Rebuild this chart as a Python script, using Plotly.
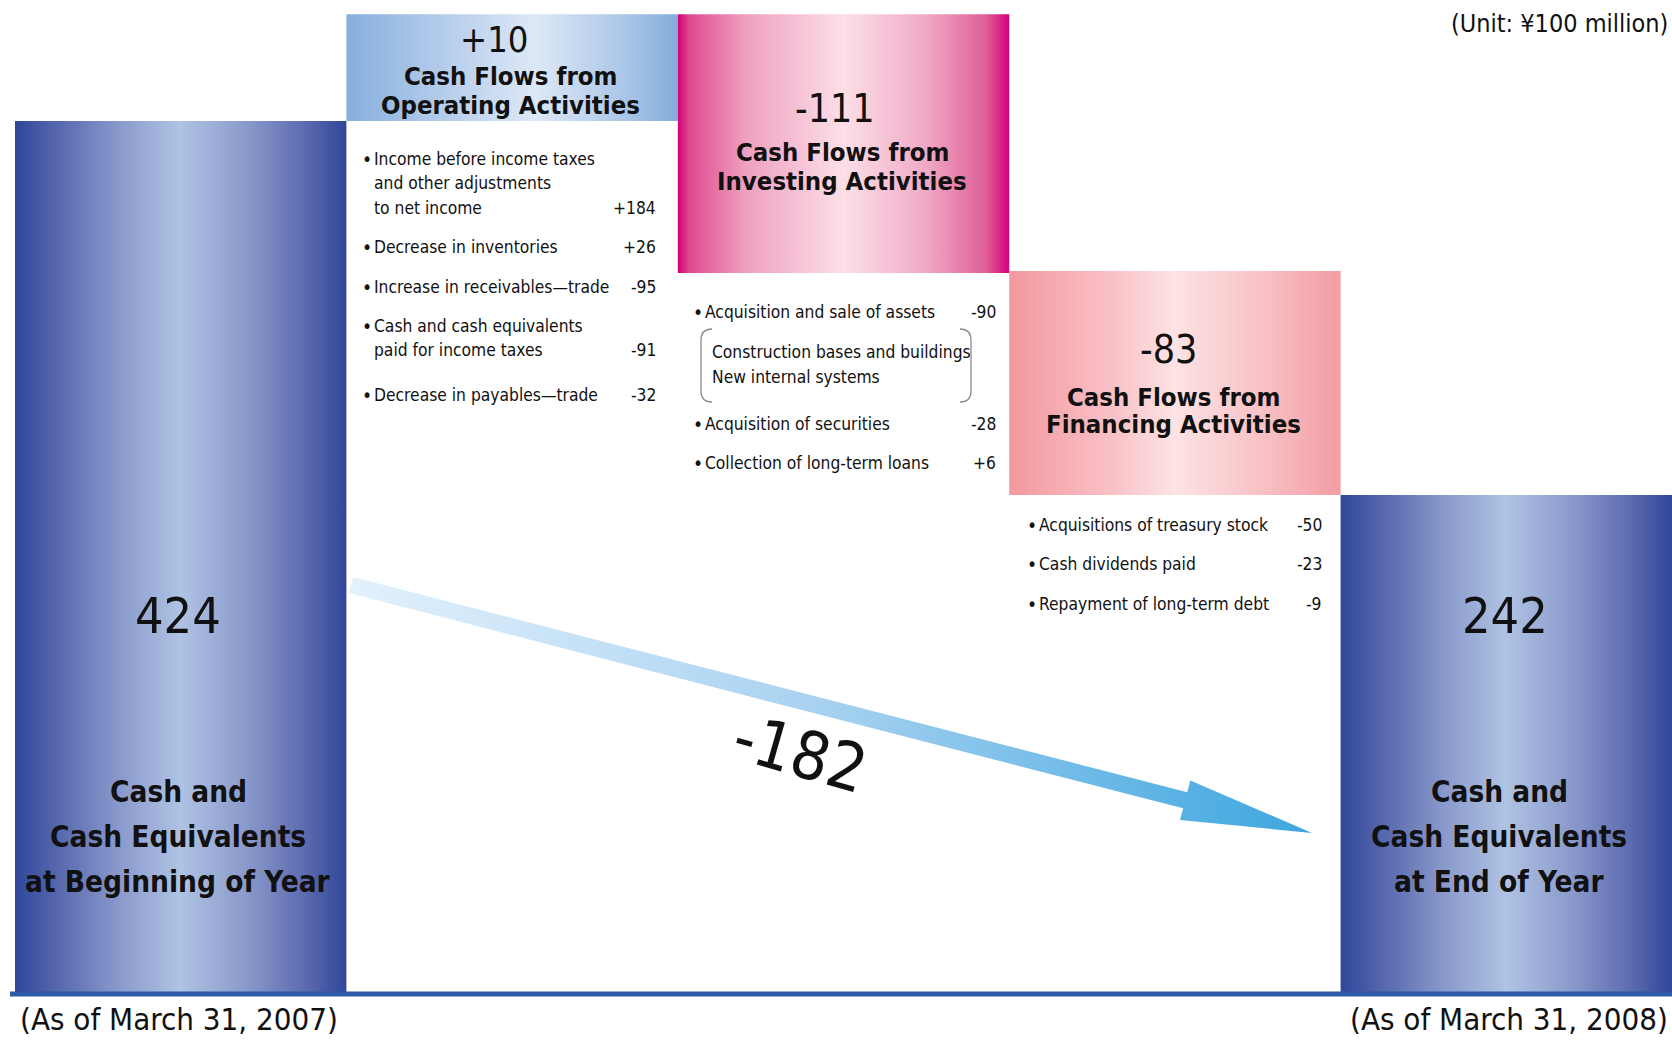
import math
import plotly.graph_objects as go

# ---------------- data ----------------
stages = ["Beginning", "Operating", "Investing", "Financing", "End"]
stage_values = [424, 10, -111, -83, 242]
stage_kind = ["total", "flow", "flow", "flow", "total"]
stage_titles = [
    ["Cash and", "Cash Equivalents", "at Beginning of Year"],
    ["Cash Flows from", "Operating Activities"],
    ["Cash Flows from", "Investing Activities"],
    ["Cash Flows from", "Financing Activities"],
    ["Cash and", "Cash Equivalents", "at End of Year"],
]
# schematic extents of the boxes as drawn (¥100 million axis)
box_bottom = [0, 424, 350, 242, 0]
box_top = [424, 476, 476, 351, 242]
net_change = -182

op_items = [
    ["Income before income taxes", "and other adjustments", "to net income"],
    ["Decrease in inventories"],
    ["Increase in receivables—trade"],
    ["Cash and cash equivalents", "paid for income taxes"],
    ["Decrease in payables—trade"],
]
op_values = [184, 26, -95, -91, -32]

inv_items = [
    ["Acquisition and sale of assets"],
    ["Acquisition of securities"],
    ["Collection of long-term loans"],
]
inv_values = [-90, -28, 6]
inv_sub_items = ["Construction bases and buildings", "New internal systems"]

fin_items = [
    ["Acquisitions of treasury stock"],
    ["Cash dividends paid"],
    ["Repayment of long-term debt"],
]
fin_values = [-50, -23, -9]

unit_text = "(Unit: ¥100 million)"
date_start = "(As of March 31, 2007)"
date_end = "(As of March 31, 2008)"

# ---------------- layout geometry ----------------
W, H = 1672, 1041
BASE_PX = 992
LEFT_PX = 15
PX_PER_UNIT_Y = 2.054
X1 = len(stages) - 0.5
X0 = -0.5 - LEFT_PX * len(stages) / (W - LEFT_PX)
Y_TOP = BASE_PX / PX_PER_UNIT_Y

FONT = ("Liberation Sans Narrow, DejaVu Sans Condensed, sans-serif")
INK = "#111111"


def ux(px):
    return X0 + px * (X1 - X0) / W


def uy(py):
    return (BASE_PX - py) / PX_PER_UNIT_Y


def pap_x(px):
    return px / W


def pap_y(py):
    return (BASE_PX - py) / BASE_PX


blue_cs = [[0, "#2f469a"], [0.12, "#5465ab"], [0.3, "#8696ca"], [0.5, "#afc3e3"],
           [0.7, "#8a99cb"], [0.88, "#5b6aae"], [1, "#30469a"]]
gradients = [
    blue_cs,
    [[0, "#86afdd"], [0.3, "#b6cdeb"], [0.57, "#dde8f6"], [0.85, "#a9c5e7"], [1, "#84addc"]],
    [[0, "#d4007a"], [0.035, "#dd4a8f"], [0.2, "#ee9fc0"], [0.5, "#fcdfe7"],
     [0.75, "#f0a9c7"], [0.93, "#df5f95"], [1, "#d4007a"]],
    [[0, "#f3999f"], [0.3, "#f8bfc5"], [0.5, "#fde3e4"], [0.75, "#f8c3c7"], [1, "#f39ca4"]],
    blue_cs,
]

fig = go.Figure()

# boxes with horizontal gradients
for i, name in enumerate(stages):
    xa, xb = i - 0.5, i + 0.5
    b, t = box_bottom[i], box_top[i]
    fig.add_trace(go.Scatter(
        x=[xa, xb, xb, xa, xa], y=[b, b, t, t, b],
        mode="lines", line=dict(width=0), fill="toself",
        fillcolor=gradients[i][len(gradients[i]) // 2][1],
        fillgradient=dict(type="horizontal", colorscale=gradients[i]),
        hoverinfo="skip", showlegend=False, name=name,
    ))

# net-change arrow (pixel geometry -> axis units)
sx, sy = 351, 585
tx, ty = 1312, 833
L = math.hypot(tx - sx, ty - sy)
dx, dy = (tx - sx) / L, (ty - sy) / L
nx, ny = -dy, dx
half_shaft = 8.3
half_head = 20.5
head_len = 131
hx, hy = tx - dx * head_len, ty - dy * head_len
pts = [
    (sx - nx * half_shaft, sy - ny * half_shaft),
    (hx - nx * half_shaft, hy - ny * half_shaft),
    (hx - nx * half_head, hy - ny * half_head),
    (tx, ty),
    (hx + nx * half_head, hy + ny * half_head),
    (hx + nx * half_shaft, hy + ny * half_shaft),
    (sx + nx * half_shaft, sy + ny * half_shaft),
]
pts.append(pts[0])
fig.add_trace(go.Scatter(
    x=[ux(p[0]) for p in pts], y=[uy(p[1]) for p in pts],
    mode="lines", line=dict(width=0), fill="toself", fillcolor="#9fcdef",
    fillgradient=dict(type="horizontal",
                      colorscale=[[0, "#e3f1fc"], [0.5, "#a6d1f0"], [1, "#3da6df"]]),
    hoverinfo="skip", showlegend=False,
))

ann = []


def text(px, py, s, size, bold=False, anchor="center", angle=0):
    ann.append(dict(
        x=pap_x(px), y=pap_y(py), xref="paper", yref="paper",
        text=f"<b>{s}</b>" if bold else s, showarrow=False,
        xanchor=anchor, yanchor="middle", textangle=angle,
        font=dict(family=FONT, size=size, color=INK),
    ))


# value + title labels in boxes
value_pos = [(178, 616, 50), (494, 40, 36), (835, 108, 39), (1168, 349, 39), (1505, 616, 50)]
title_pos = [(178, 792, 45, 29.5), (510, 76, 29, 25.5), (842, 152, 29, 25.5),
             (1173, 397, 27, 25.5), (1499, 792, 45, 29.5)]
for i in range(len(stages)):
    v = stage_values[i]
    s = f"{v:d}" if stage_kind[i] == "total" else f"{v:+d}"
    vx, vy, vs = value_pos[i]
    text(vx, vy, s, vs)
    tx0, ty0, pitch, ts = title_pos[i]
    for k, line in enumerate(stage_titles[i]):
        text(tx0, ty0 + k * pitch, line, ts, bold=True)

# bullet lists
BUL = 17.3
PITCH = 24.5


def bullet_list(items, values, x_bullet, x_value, ys):
    for item, v, y0 in zip(items, values, ys):
        text(x_bullet, y0, "•", 19, anchor="left")
        for k, line in enumerate(item):
            text(x_bullet + 12, y0 + k * PITCH, line, BUL, anchor="left")
        text(x_value, y0 + (len(item) - 1) * PITCH, f"{v:+d}", BUL, anchor="right")


bullet_list(op_items, op_values, 360, 658, [159, 247, 287, 326, 395])
bullet_list(inv_items, inv_values, 691, 998, [312, 424, 463])
bullet_list(fin_items, fin_values, 1025, 1324, [525, 564, 604])
for k, line in enumerate(inv_sub_items):
    text(710, 352 + k * 25, line, BUL, anchor="left")

# net change label
text(800, 753, f"{net_change:d}", 66, angle=16)

# unit & dates
text(1670, 24, unit_text, 25, anchor="right")
text(18, 1019, date_start, 31, anchor="left")
text(1670, 1019, date_end, 31, anchor="right")

shapes = []
# baseline
shapes.append(dict(type="line", xref="paper", yref="paper",
                   x0=pap_x(10), x1=1, y0=pap_y(994), y1=pap_y(994),
                   line=dict(color="#2d59a6", width=5)))


def bracket(x_end, x_line, y_top, y_bot):
    r = 11
    return (f"M {pap_x(x_end)},{pap_y(y_top)} "
            f"Q {pap_x(x_line)},{pap_y(y_top)} {pap_x(x_line)},{pap_y(y_top + r)} "
            f"L {pap_x(x_line)},{pap_y(y_bot - r)} "
            f"Q {pap_x(x_line)},{pap_y(y_bot)} {pap_x(x_end)},{pap_y(y_bot)}")


for xe, xl in [(712, 701), (960, 971)]:
    shapes.append(dict(type="path", xref="paper", yref="paper",
                       path=bracket(xe, xl, 329, 402),
                       line=dict(color="#8a8a8a", width=1.3)))

fig.update_layout(
    width=W, height=H,
    margin=dict(l=0, r=0, t=0, b=H - BASE_PX, pad=0),
    paper_bgcolor="white", plot_bgcolor="white",
    xaxis=dict(range=[X0, X1], visible=False, fixedrange=True),
    yaxis=dict(range=[0, Y_TOP], visible=False, fixedrange=True),
    annotations=ann, shapes=shapes, showlegend=False,
)

fig.write_html("out.html",
               config={"displayModeBar": False, "staticPlot": True},
               post_script="document.body.style.margin='0';"
                           "document.body.style.overflow='hidden';")
